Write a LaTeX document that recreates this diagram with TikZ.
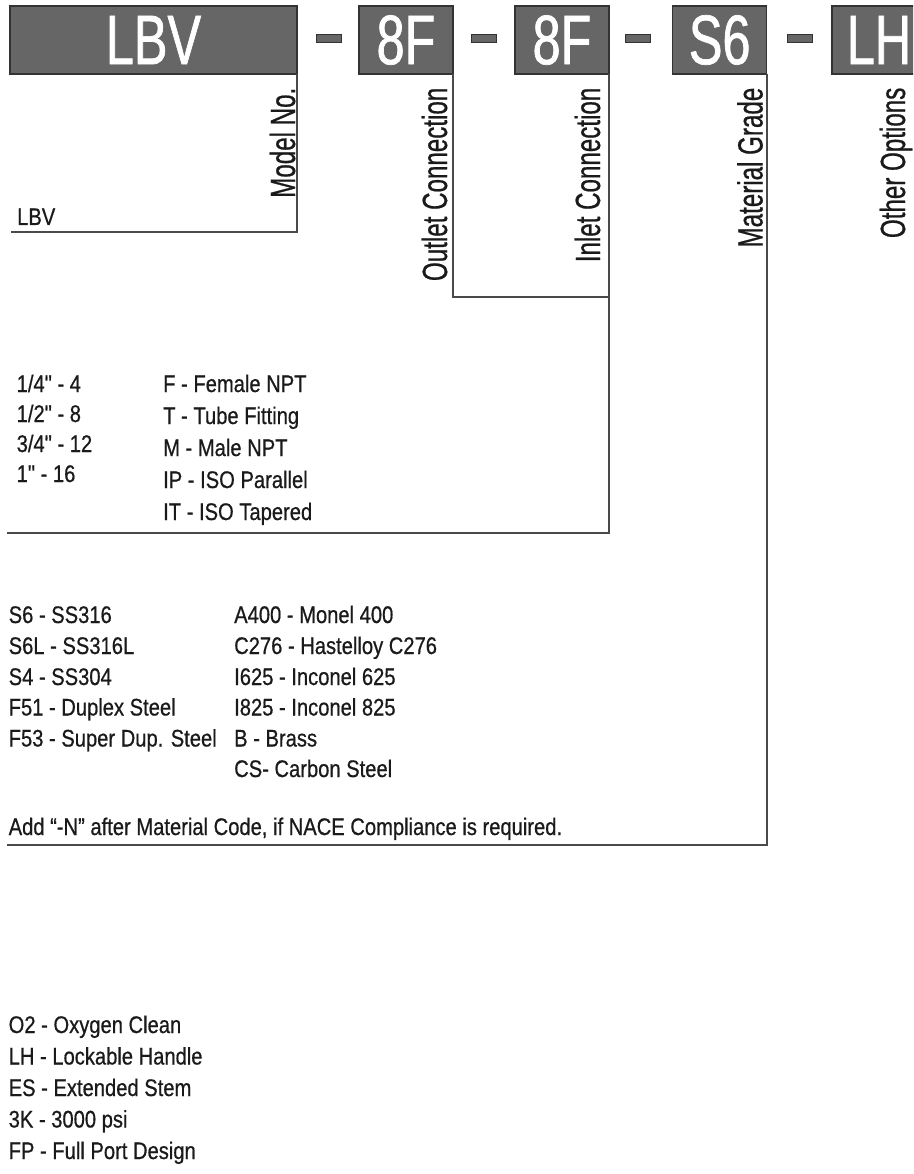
\documentclass[tikz,border=0pt]{standalone}
\usepackage{fontspec}
\setmainfont{Liberation Sans}[FakeStretch=0.84,FakeBold=0.6,Ligatures=TeXOff]
\newfontfamily\bigfont{Liberation Sans}[FakeStretch=0.72,FakeBold=1.0]
\newfontfamily\labfont{Liberation Sans}[FakeStretch=0.69,FakeBold=0.6]
\definecolor{boxgray}{HTML}{666666}
\definecolor{edgegray}{HTML}{333333}
\definecolor{leadgray}{HTML}{4A4A4A}
\definecolor{txt}{HTML}{1A1A1A}
\begin{document}
\begin{tikzpicture}[x=1pt,y=-1pt,
  codebox/.style={draw=edgegray, line width=1.2pt, fill=boxgray, text=white, inner sep=0pt, outer sep=0pt,
    minimum height=68pt, font=\bigfont\fontsize{70}{72}\selectfont},
  dashbox/.style={draw=edgegray, line width=1pt, fill=boxgray, minimum width=25pt, minimum height=8pt, inner sep=0pt, outer sep=0pt},
  lead/.style={draw=leadgray, line width=1.6pt},
  lab/.style={rotate=90, anchor=base east, inner sep=0pt, font=\labfont\fontsize{35}{40}\selectfont, text=txt},
  item/.style={anchor=base west, inner sep=0pt, font=\fontsize{24}{28}\selectfont, text=txt}]
\useasboundingbox (0,0) rectangle (913,1174);
\clip (0,0) rectangle (913,1174);
\fill[white] (0,0) rectangle (913,1174);

% code boxes
\node[codebox, minimum width=287pt] (bLBV) at (153.5,40) {LBV};
\node[codebox, minimum width=94pt] (bOut) at (406,40) {8F};
\node[codebox, minimum width=94pt] (bIn) at (562,40) {8F};
\node[codebox, minimum width=94pt] (bMat) at (719.7,40) {S6};
\node[codebox, minimum width=94pt] (bOpt) at (879,40) {LH};

% dashes
\node[dashbox] (d1) at (328.8,38.5) {};
\node[dashbox] (d2) at (484.3,38.5) {};
\node[dashbox] (d3) at (638.2,38.5) {};
\node[dashbox] (d4) at (800.2,38.5) {};

% leader lines
\coordinate (cModel) at (11,232);
\coordinate (cOut) at (609,297);
\coordinate (cIn) at (7,533);
\coordinate (cMat) at (7,845);
\draw[lead] (bLBV.south east) |- (cModel);
\draw[lead] (bOut.south east) |- (cOut);
\draw[lead] (bIn.south east) |- (cIn);
\draw[lead] (bMat.south east) |- (cMat);

% rotated labels
\node[lab] (lModel) at (295,87.5) {Model No.};
\node[lab] (lOut) at (447,87.5) {Outlet Connection};
\node[lab] (lIn) at (600,87.5) {Inlet Connection};
\node[lab] (lMat) at (762.5,87.5) {Material Grade};
\node[lab] (lOpt) at (905,87.5) {Other Options};

% model
\node[item] (tLBV) at (17,225) {LBV};

% connection sizes
\node[item] (s1) at (16.5,392) {1/4" - 4};
\node[item] (s2) at (16.5,422) {1/2" - 8};
\node[item] (s3) at (16.5,452) {3/4" - 12};
\node[item] (s4) at (16.5,482) {1" - 16};
% connection types
\node[item] (c1) at (163,392) {F - Female NPT};
\node[item] (c2) at (163,424) {T - Tube Fitting};
\node[item] (c3) at (163,456) {M - Male NPT};
\node[item] (c4) at (163,488) {IP - ISO Parallel};
\node[item] (c5) at (163,520) {IT - ISO Tapered};

% materials
\node[item] (m1) at (8.5,623) {S6 - SS316};
\node[item] (m2) at (8.5,654) {S6L - SS316L};
\node[item] (m3) at (8.5,685) {S4 - SS304};
\node[item] (m4) at (8.5,715.5) {F51 - Duplex Steel};
\node[item] (m5) at (8.5,746.5) {F53 - Super Dup. Steel};
\node[item] (n1) at (234,623) {A400 - Monel 400};
\node[item] (n2) at (234,654) {C276 - Hastelloy C276};
\node[item] (n3) at (234,685) {I625 - Inconel 625};
\node[item] (n4) at (234,715.5) {I825 - Inconel 825};
\node[item] (n5) at (234,746.5) {B - Brass};
\node[item] (n6) at (234,777) {CS- Carbon Steel};
\node[item] (nace) at (8.5,835) {Add “-N” after Material Code, if NACE Compliance is required.};

% other options
\node[item] (o1) at (8.5,1033) {O2 - Oxygen Clean};
\node[item] (o2) at (8.5,1064.5) {LH - Lockable Handle};
\node[item] (o3) at (8.5,1096) {ES - Extended Stem};
\node[item] (o4) at (8.5,1127.5) {3K - 3000 psi};
\node[item] (o5) at (8.5,1159) {FP - Full Port Design};
\end{tikzpicture}
\end{document}
